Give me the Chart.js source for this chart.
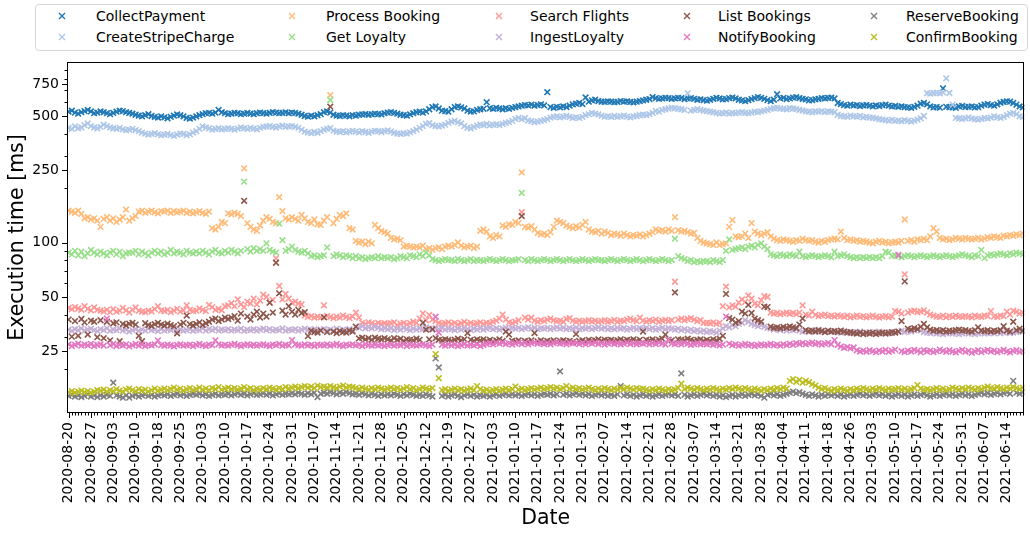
<!DOCTYPE html>
<html>
<head>
<meta charset="utf-8">
<script src="https://cdn.jsdelivr.net/npm/chart.js@4.4.1/dist/chart.umd.min.js"></script>
<style>
  body { margin: 0; background: #fff; font-family: "DejaVu Sans", sans-serif; }
  #wrap { position: relative; width: 1030px; height: 534px; }
  #chart { position: absolute; left: 0; top: 0; }
  #legend { position: absolute; left: 35px; top: 4px; width: 993px; height: 47px; box-sizing: border-box;
            border: 1px solid #d6d6d6; border-radius: 4px; background: #fff; }
  .mk { position: absolute; width: 8px; height: 8px; }
  .lb { position: absolute; font-size: 14px; line-height: 18px; color: #000; white-space: nowrap; }
</style>
</head>
<body>
<div id="wrap">
  <canvas id="chart" width="1030" height="534"></canvas>
  <div id="legend"></div>
</div>
<script>
// tick labels, one every 7 points
const tickLabels = ['2020-08-20','2020-08-27','2020-09-03','2020-09-10','2020-09-18','2020-09-25','2020-10-03',
  '2020-10-10','2020-10-17','2020-10-24','2020-10-31','2020-11-07','2020-11-14','2020-11-21','2020-11-28',
  '2020-12-05','2020-12-12','2020-12-19','2020-12-27','2021-01-03','2021-01-10','2021-01-17','2021-01-24',
  '2021-01-31','2021-02-07','2021-02-14','2021-02-21','2021-02-28','2021-03-07','2021-03-14','2021-03-21',
  '2021-03-28','2021-04-04','2021-04-11','2021-04-18','2021-04-26','2021-05-03','2021-05-10','2021-05-17',
  '2021-05-24','2021-05-31','2021-06-07','2021-06-14'];
const yTicks = [25, 50, 100, 250, 500, 750];
const yMinor = [20, 30, 40, 60, 70, 80, 90, 200, 300, 400, 600, 700, 800, 900];

const seriesNames = ['CollectPayment', 'CreateStripeCharge', 'Process Booking', 'Get Loyalty', 'Search Flights',
  'IngestLoyalty', 'List Bookings', 'NotifyBooking', 'ReserveBooking', 'ConfirmBooking'];

const collectPayment = [
  528,535,522,515,525,532,540,530,518,522, 530,525,518,512,520,528,535,532,525,520,
  515,508,502,498,505,512,500,495,490,498, 492,486,495,502,510,505,498,488,484,490,
  498,505,512,518,520,515,522,540,525,518, 512,515,520,518,512,515,520,516,512,518,
  522,518,515,520,525,522,518,520,524,518, 522,520,515,508,500,496,502,498,505,512,
  525,530,522,508,502,500,505,502,498,505, 502,508,510,512,508,511,515,512,510,518,
  522,525,520,515,508,505,502,510,518,525, 528,522,530,545,560,565,550,535,532,528,
  545,560,565,558,550,535,528,530,540,545, 548,596,552,548,555,550,545,552,548,555,
  560,565,570,575,572,578,570,575,580,572, 677,560,555,562,558,565,560,570,580,585,
  590,582,633,600,610,615,605,600,598,602, 600,596,598,605,600,602,598,595,600,605,
  610,615,620,636,628,622,625,630,628,622, 625,630,628,620,625,628,622,615,618,612,
  608,615,622,630,625,618,620,628,632,625, 615,610,605,612,620,628,636,630,622,612,
  605,615,660,625,630,620,625,632,635,628, 622,618,610,612,618,622,628,625,630,632,
  625,590,582,575,570,578,572,575,568,572, 575,570,565,572,568,575,578,570,565,568,
  562,565,560,558,555,562,570,585,590,580, 565,558,560,556,711,562,560,558,555,565,
  568,560,562,565,558,560,570,578,582,575, 570,580,592,598,602,600,590,578,565,558];

const createStripeCharge = [
  430,425,438,428,432,445,455,440,432,428, 435,448,440,432,428,425,430,422,418,420,
  425,418,412,405,400,395,398,402,396,392, 395,398,392,388,395,400,398,392,396,405,
  412,425,438,432,428,420,425,428,422,424, 428,425,420,426,432,428,424,430,426,422,
  430,435,438,440,436,432,438,442,436,438, 440,436,430,420,410,405,402,408,404,412,
  420,425,428,415,410,408,412,406,410,414, 410,406,412,408,404,410,414,412,408,412,
  416,410,404,400,398,402,400,406,412,420, 430,440,452,456,445,440,438,442,448,458,
  465,470,462,455,440,430,428,435,442,448, 446,452,444,448,450,445,452,458,462,470,
  482,488,480,486,472,468,462,466,470,475, 480,490,495,498,492,496,500,494,488,492,
  488,495,505,512,520,515,510,502,496,498, 495,500,494,498,502,496,492,498,500,505,
  508,506,512,520,532,528,540,545,550,555, 552,548,545,540,667,535,540,545,540,535,
  532,528,525,520,516,518,522,515,520,518, 522,525,520,518,522,528,526,530,535,540,
  548,552,555,550,548,545,552,550,546,540, 535,530,528,525,530,528,532,526,530,528,
  525,508,500,498,495,502,498,496,500,492, 495,490,488,485,480,478,475,472,476,470,
  472,468,475,470,466,472,478,486,500,668, 665,670,672,668,675,808,670,578,488,485,
  482,486,490,484,480,478,482,488,485,490, 498,492,488,495,505,515,520,512,498,495];

const processBooking = [
  150,148,146,150,144,136,138,134,136,132, 122,135,138,132,136,130,134,138,152,132,
  136,140,148,150,146,148,150,147,145,149, 148,150,146,149,147,148,150,146,148,145,
  147,149,146,144,148,120,118,122,130,128, 145,143,146,144,140,257,128,122,118,116,
  124,132,138,135,130,128,178,149,136,134, 138,135,132,142,136,130,128,134,126,125,
  132,138,653,128,135,142,140,145,120,118, 102,100,101,98,101,99,125,120,116,114,
  112,106,104,105,103,95,96,95,94,95, 94,96,92,93,91,93,94,92,95,96,
  95,97,100,96,94,95,96,93,95,116, 118,115,108,106,110,108,124,122,126,125,
  130,128,244,122,121,123,118,113,111,112, 110,114,122,132,130,128,124,122,120,123,
  121,125,130,118,115,114,116,112,115,113, 110,112,111,109,112,110,108,110,109,111,
  108,110,112,114,118,116,117,115,118,116, 138,117,115,116,114,112,113,106,102,100,
  99,98,97,100,97,98,99,122,133,108, 107,108,112,106,128,115,112,110,112,114,
  108,105,103,102,104,103,102,101,103,102, 105,103,102,103,101,100,102,101,103,104,
  105,104,115,106,103,104,102,103,101,102, 101,100,99,101,102,100,101,99,100,101,
  100,102,134,102,103,101,104,103,105,103, 108,120,115,106,104,105,103,104,106,105,
  104,106,105,104,105,106,104,105,107,106, 108,107,106,109,108,110,109,111,110,112];

const getLoyalty = [
  88,86,90,85,89,84,87,91,88,86, 89,87,85,88,90,86,89,84,87,88,
  88,90,86,89,87,85,88,90,87,89, 86,88,91,87,89,88,86,90,88,87,
  89,87,90,88,86,89,91,88,87,90, 88,91,89,87,90,217,92,89,93,90,
  92,90,99,91,89,88,127,103,90,92, 95,91,89,88,90,87,84,85,83,84,
  85,94,613,84,86,85,83,85,84,82, 84,82,83,81,82,83,82,84,82,83,
  82,83,81,82,84,83,82,85,84,83, 86,84,88,85,81,80,79,80,81,80,
  80,79,81,80,79,80,81,79,80,80, 79,80,81,80,79,80,81,80,79,80,
  80,81,188,80,79,81,80,79,80,81, 80,79,80,81,80,79,80,81,80,79,
  80,81,80,79,80,81,80,80,79,80, 81,80,79,80,81,80,79,80,81,80,
  79,80,81,80,79,80,81,80,79,80, 105,84,82,81,79,80,78,79,78,79,
  79,78,80,79,78,80,90,104,91,92, 93,94,92,95,96,94,97,99,95,92,
  86,85,84,86,85,84,86,85,84,89, 84,83,84,85,84,83,84,85,84,83,
  89,84,85,86,84,83,82,83,82,83, 82,83,82,83,82,84,89,88,84,85,
  84,83,84,85,84,83,84,85,84,83, 84,85,84,83,84,85,84,83,84,85,
  86,85,84,83,85,84,91,82,85,86, 85,86,87,86,85,87,86,88,87,86];

const searchFlights = [
  43.5,42.8,44.0,43.2,42.5,44.5,43.0,42.2,43.8,42.5, 42.0,41.6,42.5,41.2,42.8,41.5,42.0,43.5,42.2,41.0,
  42.5,43.8,42.0,41.5,41.2,42.0,41.6,42.8,44.5,42.0, 41.8,42.5,41.2,42.0,43.0,41.5,42.2,45.0,42.5,41.8,
  42.0,43.2,42.5,41.8,45.2,44.0,42.5,43.0,42.2,44.5, 45.0,46.2,44.5,48.5,45.5,44.0,47.2,46.0,49.0,45.5,
  47.8,51.5,50.0,46.5,48.2,81.8,57.5,48.5,52.0,49.0, 46.5,47.2,46.0,45.5,39.5,38.8,39.2,38.5,39.0,38.6,
  45.0,39.2,38.8,38.2,39.0,38.5,39.5,38.8,38.2,39.0, 41.0,38.5,36.0,35.5,36.2,35.8,35.2,36.0,35.5,35.8,
  35.5,35.8,36.2,35.0,35.6,36.0,35.2,35.8,36.5,36.0, 38.0,40.6,37.2,39.8,37.5,36.8,36.0,35.5,35.8,36.2,
  35.5,36.0,35.2,35.8,36.4,35.6,36.0,35.4,35.8,36.2, 35.5,36.0,35.8,36.5,37.0,38.0,40.0,37.5,36.2,35.8,
  36.5,37.2,147,38.4,37.5,38.4,37.0,36.5,37.2,36.8, 37.5,38.0,37.2,36.8,37.0,36.5,37.8,38.2,37.0,36.5,
  37.0,36.5,36.8,37.2,36.6,37.0,36.4,36.8,37.2,36.5, 36.8,37.4,36.5,37.0,36.8,37.5,38.0,37.2,36.8,38.4,
  37.0,36.6,37.2,36.8,37.5,36.5,37.0,37.4,36.8,37.2, 60.7,37.5,38.0,37.2,37.8,38.2,37.5,36.8,37.2,36.0,
  36.0,35.8,36.2,35.5,36.0,44.5,57.0,43.8,45.0,44.2, 46.5,48.5,47.0,51.0,49.0,46.0,45.0,48.0,50.5,50.0,
  41.0,40.5,40.8,40.2,40.6,41.0,40.4,40.8,40.2,41.0, 45.0,40.0,39.5,41.5,39.8,39.2,39.6,40.0,39.2,39.5,
  39.0,39.6,39.2,38.8,39.4,38.6,39.0,39.5,38.8,39.2, 38.6,39.0,39.4,38.8,38.5,39.0,39.2,38.6,39.0,41.8,
  41.5,40.5,66.7,41.0,41.8,42.0,41.2,41.5,42.2,41.0, 40.0,39.5,39.0,38.8,39.4,38.6,39.2,38.8,39.5,39.0,
  38.8,39.2,39.0,38.6,39.4,39.0,38.8,39.5,39.2,41.8, 39.0,38.8,39.5,39.2,41.5,40.0,42.0,41.5,40.5,41.0];

const ingestLoyalty = [
  33.0,32.5,33.2,32.8,33.5,32.6,33.0,33.4,32.8,32.4, 33.2,32.8,33.6,32.5,33.0,32.8,33.4,32.6,33.0,32.2,
  32.8,33.2,32.5,33.0,32.6,33.4,32.8,33.0,32.4,33.2, 32.6,33.0,32.8,33.4,32.5,33.0,32.6,32.8,33.2,32.5,
  33.0,32.8,33.5,32.6,33.2,32.8,33.4,32.6,33.0,32.8, 33.2,32.6,33.0,32.8,33.4,32.5,33.0,32.8,33.2,32.6,
  33.0,33.4,32.8,33.2,32.6,33.0,32.8,33.5,32.6,33.0, 32.8,33.2,32.6,33.0,33.4,32.8,33.0,33.2,32.6,33.0,
  33.2,32.8,33.0,32.6,33.4,32.8,33.0,32.6,33.2,32.8, 34.2,33.8,34.5,33.6,34.0,33.5,34.2,33.8,33.2,33.6,
  33.2,33.6,32.8,33.4,33.0,33.8,33.2,32.8,33.4,33.0, 33.6,33.2,34.0,33.4,33.0,33.6,33.2,33.8,33.0,33.4,
  33.2,32.8,33.4,33.0,33.6,33.2,32.8,33.4,33.0,33.6, 33.0,33.4,33.8,33.2,33.6,33.0,33.4,33.8,33.2,33.6,
  33.4,33.8,33.2,33.6,34.0,33.4,33.8,33.2,33.6,33.4, 33.8,33.2,33.6,34.0,33.4,33.8,33.2,33.6,33.4,33.8,
  33.2,33.6,33.4,33.8,33.2,33.6,34.0,33.4,33.8,33.2, 33.6,33.2,33.8,33.4,33.6,33.0,33.4,33.8,33.2,33.6,
  33.4,33.8,33.2,33.6,33.0,33.4,33.8,33.2,33.6,33.4, 33.0,33.4,32.8,33.2,32.6,33.0,32.4,32.8,32.2,32.6,
  32.0,32.4,32.2,31.8,32.6,33.5,34.5,34.0,35.0,34.5, 35.5,36.0,37.2,36.5,35.5,35.0,34.5,35.0,34.2,33.8,
  33.5,33.0,33.4,32.8,33.2,32.6,33.0,32.8,33.2,32.6, 32.2,32.5,32.0,32.4,32.8,32.2,32.6,32.0,32.4,32.2,
  32.0,32.4,31.8,32.2,32.0,31.6,32.0,31.8,32.2,31.6, 31.8,32.0,31.6,31.8,32.2,31.5,31.8,32.0,31.6,31.8,
  32.2,32.5,32.0,32.4,32.2,32.8,33.2,32.6,32.0,31.8, 31.6,31.8,31.4,31.6,31.2,31.5,31.8,31.4,31.6,31.2,
  31.5,31.8,31.4,31.6,31.2,31.5,31.8,31.4,31.6,31.8, 31.5,32.0,31.6,31.8,32.2,31.6,31.8,32.0,32.4,32.2];

const listBookings = [
  37.5,30.2,36.8,30.5,37.8,36.2,31.0,37.0,36.5,30.0, 37.2,29.6,36.5,28.8,35.8,36.2,28.5,35.5,34.8,35.6,
  36.0,35.2,30.5,28.5,35.8,35.0,34.6,35.4,36.0,35.2, 34.8,35.6,35.0,34.5,31.5,35.2,36.0,39.5,35.4,34.8,
  35.5,36.2,35.0,35.8,36.5,37.5,38.0,36.8,37.5,38.5, 37.8,38.5,39.2,37.0,40.5,170,39.0,37.5,40.0,41.5,
  38.5,40.5,39.0,46.5,41.0,77.3,52.4,42.0,40.0,44.5, 41.5,40.0,42.5,40.8,41.2,30.4,32.5,32.0,31.8,32.6,
  38.6,32.0,563,32.2,31.6,32.4,32.0,31.8,32.6,32.2, 34.3,29.5,29.8,29.2,29.6,29.0,29.8,29.4,29.2,29.6,
  29.2,28.8,29.6,29.0,29.4,28.6,29.2,29.0,28.8,29.4, 29.0,36.0,33.0,29.2,33.2,29.6,29.0,28.8,29.2,29.0,
  28.6,29.0,29.4,28.8,29.2,31.6,29.0,28.6,29.2,28.8, 29.2,28.6,29.0,28.4,28.8,29.2,28.6,32.2,31.0,28.6,
  28.4,28.8,140,28.6,28.4,28.8,31.6,28.4,28.8,28.2, 28.6,28.4,28.8,28.2,28.6,28.8,28.4,28.6,28.2,31.2,
  28.6,28.8,28.4,29.0,28.6,28.8,29.2,28.6,29.0,28.8, 29.0,28.6,28.8,29.2,28.6,29.0,28.8,29.2,28.6,29.0,
  32.2,29.0,28.8,29.2,28.6,29.0,29.4,31.0,29.0,28.8, 53.0,29.2,29.0,28.8,29.4,29.0,28.6,29.0,29.2,28.6,
  29.0,28.6,29.2,28.8,29.4,30.5,52.0,38.2,37.5,36.0, 36.8,41.5,40.5,45.2,40.8,38.0,37.2,36.5,44.2,44.0,
  34.3,33.8,34.0,33.6,34.2,33.8,34.4,34.0,33.6,35.2, 38.0,32.8,32.4,32.6,32.2,32.8,32.4,32.0,32.6,32.2,
  32.4,32.0,32.6,32.2,31.8,32.0,31.6,31.4,31.8,31.2, 31.6,31.4,31.8,31.2,31.6,31.8,31.4,31.6,32.0,31.8,
  32.2,36.8,61.0,33.4,33.0,33.6,33.2,34.2,35.5,34.0, 33.0,32.6,32.8,32.4,32.8,32.2,32.6,32.4,32.8,33.0,
  32.6,32.8,32.4,32.2,32.8,34.0,32.6,32.4,32.8,32.2, 32.6,32.4,32.8,34.5,32.6,32.2,36.5,32.8,33.4,32.6];

const notifyBooking = [
  27.4,26.8,27.2,27.6,26.9,27.3,27.0,27.5,26.8,27.2, 27.4,26.9,38.0,27.1,27.5,26.8,27.2,27.0,27.4,26.7,
  27.1,27.5,26.9,27.3,26.8,27.2,27.0,27.4,28.8,27.1, 26.9,27.3,27.0,26.7,27.2,27.4,26.9,27.1,27.3,26.8,
  27.2,27.5,27.0,26.8,27.3,27.1,28.8,27.4,27.0,27.2, 26.9,27.3,27.5,27.1,26.8,27.2,27.4,27.0,27.3,26.9,
  27.2,27.4,27.0,26.8,27.3,27.1,27.5,26.9,27.2,27.0, 28.9,27.3,27.1,26.9,27.4,27.0,27.2,26.8,27.3,27.1,
  27.0,27.4,26.9,27.2,27.5,27.0,26.8,27.3,27.1,27.4, 27.0,27.2,26.8,27.4,27.1,26.9,27.3,27.0,27.2,26.8,
  27.1,27.4,26.9,27.2,27.0,27.5,26.8,27.3,27.1,26.9, 27.2,27.4,27.0,26.8,27.3,38.9,31.8,27.2,26.9,27.4,
  27.0,27.3,26.8,27.1,27.5,26.9,27.2,27.0,27.4,26.8, 27.2,27.5,27.8,27.4,27.9,27.6,28.0,27.5,27.8,27.3,
  27.7,28.0,27.5,27.9,27.4,27.8,28.1,27.6,27.9,27.5, 27.8,27.4,27.9,28.1,27.6,27.8,27.4,27.9,27.7,28.0,
  27.5,27.8,27.4,27.9,27.6,28.0,27.5,27.8,27.3,27.7, 27.9,27.5,27.8,27.4,27.6,28.0,27.5,27.8,27.4,27.7,
  27.6,27.9,27.4,27.8,27.5,28.0,27.6,27.3,29.0,27.7, 27.5,27.8,27.4,27.9,27.6,27.2,27.5,27.8,27.4,27.6,
  27.4,27.7,27.2,27.5,27.0,27.3,39.0,27.6,27.1,27.4, 26.9,27.2,27.5,27.0,27.3,26.8,27.1,27.4,27.0,27.2,
  27.5,27.0,27.3,26.9,27.4,27.1,27.6,27.2,27.8,27.5, 27.9,27.4,27.7,28.0,27.5,27.8,27.3,27.6,27.9,27.4,
  28.9,27.2,26.6,26.2,26.5,26.0,26.3,25.4,25.0,25.3, 24.9,25.4,25.1,24.8,25.3,25.0,25.5,24.9,25.2,25.6,
  85.3,25.1,24.8,25.3,25.0,25.5,25.2,24.7,25.4,25.0, 25.3,24.8,25.1,25.6,25.2,24.9,25.4,25.0,24.7,25.2,
  25.5,24.9,25.2,24.6,25.0,25.4,24.8,25.2,25.5,25.0, 25.3,24.8,25.1,25.5,25.0,24.7,25.2,25.4,24.9,25.1];

const reserveBooking = [
  14.2,14.4,14.1,14.3,14.0,14.2,14.5,14.1,14.3,14.0, 14.3,14.1,14.4,14.2,16.8,14.3,14.1,13.9,14.3,13.9,
  14.2,14.4,14.1,14.3,14.5,14.2,14.4,14.1,14.3,14.5, 14.3,14.5,14.2,14.4,14.6,14.3,14.5,14.2,14.4,14.6,
  14.4,14.6,14.3,14.5,14.2,14.4,14.6,14.3,14.5,14.4, 14.6,14.3,14.5,14.7,14.4,14.6,14.3,14.5,14.7,14.4,
  14.5,14.7,14.4,14.6,14.3,14.5,14.7,14.4,14.6,14.5, 14.7,14.5,14.8,14.6,14.4,14.7,14.5,14.8,14.0,14.6,
  14.8,14.6,14.9,14.7,14.5,14.8,14.6,14.9,14.7,14.5, 14.6,14.4,14.7,14.5,14.3,14.6,14.4,14.2,14.5,14.3,
  14.5,14.3,14.6,14.4,14.2,14.5,14.3,14.6,14.4,14.2, 14.4,14.2,14.5,14.3,14.1,22.9,20.4,14.2,14.4,14.1,
  14.3,14.5,14.2,14.0,14.3,14.5,14.2,14.4,14.1,14.3, 14.2,14.4,14.1,14.3,14.5,14.2,14.4,14.6,14.3,14.5,
  14.3,14.5,14.2,14.4,14.6,14.3,14.5,14.2,14.4,14.6, 14.4,14.6,14.3,14.5,19.4,14.4,14.6,14.3,14.5,14.7,
  14.4,14.6,14.3,14.5,14.2,14.4,14.6,14.3,14.5,14.2, 14.4,14.2,14.5,16.1,14.3,14.5,14.2,14.4,14.1,14.3,
  14.5,14.2,14.4,14.1,14.3,14.5,14.2,14.4,14.6,14.3, 14.5,14.2,18.9,14.4,14.1,14.3,14.5,14.2,14.4,14.6,
  14.3,14.5,14.2,14.4,14.1,14.3,14.0,14.2,14.4,14.1, 14.3,14.5,14.2,14.4,14.6,14.3,14.5,14.2,13.9,14.4,
  14.6,14.3,14.5,14.2,14.4,14.6,14.8,15.0,14.7,14.9, 14.6,14.4,14.2,14.5,14.3,14.1,14.4,14.2,14.5,14.3,
  14.5,14.2,14.4,14.1,14.3,14.5,14.2,14.4,14.6,14.3, 14.5,14.2,14.4,14.6,14.3,14.5,14.2,14.4,14.1,14.3,
  14.5,14.2,14.4,14.1,14.3,14.5,14.2,14.4,14.6,14.3, 14.1,14.3,14.5,14.2,14.4,14.6,14.3,14.5,14.2,14.4,
  14.6,14.3,14.5,14.2,14.4,14.6,14.8,14.5,14.7,14.4, 14.6,14.8,14.5,14.7,14.9,14.6,17.2,14.8,14.6,14.9];

const confirmBooking = [
  14.9,15.1,14.8,15.0,15.2,14.9,15.1,14.8,15.0,15.3, 15.2,15.4,15.0,15.3,15.1,15.5,15.2,15.0,15.4,15.6,
  15.3,15.1,15.5,15.2,15.4,15.0,15.3,15.6,15.2,15.4, 15.6,15.3,15.5,15.8,15.4,15.6,15.2,15.5,15.7,15.3,
  15.5,15.8,15.4,15.6,15.3,15.7,15.5,15.9,15.4,15.6, 15.8,15.5,15.7,15.4,15.6,15.9,15.5,15.7,15.3,15.6,
  15.4,15.7,15.5,15.8,15.6,15.4,15.7,15.5,15.9,15.6, 15.8,16.0,15.7,15.9,16.1,15.8,16.0,15.7,16.2,15.9,
  16.0,15.8,16.1,15.9,15.7,16.0,16.2,15.8,16.0,15.9, 15.7,15.5,15.8,15.6,15.4,15.7,15.5,15.8,15.6,15.4,
  15.6,15.8,15.5,15.7,15.4,15.6,15.9,15.5,15.7,15.3, 15.5,15.8,15.6,15.4,15.7,24.2,17.8,15.3,15.5,15.2,
  15.4,15.6,15.3,15.5,15.2,15.4,15.6,15.3,16.1,15.5, 15.2,15.4,15.1,15.3,15.5,15.2,15.4,15.6,15.3,15.5,
  16.0,15.4,15.6,15.3,15.5,15.7,15.4,15.6,15.8,15.5, 15.7,15.9,15.6,15.8,15.5,15.7,16.1,15.6,15.8,15.5,
  15.7,15.4,15.6,15.8,15.5,15.3,15.6,15.4,15.7,15.5, 15.3,15.6,15.4,15.7,15.5,15.8,15.6,15.4,15.7,15.5,
  15.6,15.4,15.2,15.5,15.3,15.6,15.4,15.2,15.5,15.3, 15.4,15.7,16.6,15.5,15.8,15.6,15.4,15.7,15.5,15.3,
  15.6,15.4,15.7,15.5,15.3,15.6,15.4,15.7,15.5,15.8, 15.6,15.4,15.7,15.5,15.3,15.6,15.4,15.2,15.5,15.3,
  15.6,15.4,15.7,15.5,15.8,15.6,17.2,17.6,17.0,17.4, 16.8,17.2,16.9,16.5,16.2,15.8,15.5,15.7,15.4,15.2,
  15.5,15.3,15.6,15.4,15.2,15.5,15.3,15.6,15.4,15.7, 15.5,15.3,15.6,15.4,15.7,15.5,15.3,15.6,15.4,15.5,
  15.7,15.4,15.6,15.3,15.5,15.7,16.3,15.6,15.4,15.5, 15.3,15.5,15.7,15.4,15.6,15.3,15.5,15.8,15.6,15.4,
  15.7,15.5,15.8,15.6,15.4,15.7,15.5,15.8,16.0,15.7, 15.6,15.9,15.7,15.5,15.8,15.6,15.9,15.7,15.5,15.8];

const seriesValues = [collectPayment, createStripeCharge, processBooking, getLoyalty, searchFlights,
  ingestLoyalty, listBookings, notifyBooking, reserveBooking, confirmBooking];
const colors = ['#1f77b4', '#aec7e8', '#ffbb78', '#98df8a', '#ff9896',
  '#c5b0d5', '#8c564b', '#e377c2', '#7f7f7f', '#bcbd22'];

const N = collectPayment.length;
const FONT = '"DejaVu Sans", sans-serif';

// legend, matplotlib style: 5 columns x 2 rows, filled column by column
const legend = document.getElementById('legend');
const markX = [62, 292, 499, 687, 874];
const textX = [96, 326, 530, 718, 906];
const rowY = [16, 37];
seriesNames.forEach((name, i) => {
  const col = Math.floor(i / 2), row = i % 2;
  const mk = document.createElementNS('http://www.w3.org/2000/svg', 'svg');
  mk.setAttribute('class', 'mk');
  mk.setAttribute('viewBox', '0 0 8 8');
  mk.style.left = (markX[col] - 4 - 36) + 'px';
  mk.style.top = (rowY[row] - 4 - 5) + 'px';
  mk.innerHTML = `<path d="M1 1L7 7M7 1L1 7" stroke="${colors[i]}" stroke-width="1.4"/>`;
  legend.appendChild(mk);
  const lb = document.createElement('span');
  lb.className = 'lb';
  lb.textContent = name;
  lb.style.left = (textX[col] - 36) + 'px';
  lb.style.top = (rowY[row] - 9 - 5) + 'px';
  legend.appendChild(lb);
});

// frame and tick marks (major longer than minor)
const axisDecor = {
  id: 'axisDecor',
  afterDraw(chart) {
    const { ctx, chartArea: a, scales: { x, y } } = chart;
    ctx.save();
    ctx.strokeStyle = '#000';
    ctx.lineWidth = 1;
    ctx.beginPath();
    for (let i = 0; i < N; i++) {
      const px = Math.round(x.getPixelForValue(i)) + 0.5;
      const len = i % 7 === 0 ? 5 : 2.5;
      ctx.moveTo(px, a.bottom);
      ctx.lineTo(px, a.bottom + len);
    }
    yTicks.forEach(v => {
      const py = Math.round(y.getPixelForValue(v)) + 0.5;
      ctx.moveTo(a.left, py);
      ctx.lineTo(a.left - 5, py);
    });
    yMinor.forEach(v => {
      const py = Math.round(y.getPixelForValue(v)) + 0.5;
      ctx.moveTo(a.left, py);
      ctx.lineTo(a.left - 2.5, py);
    });
    ctx.stroke();
    ctx.strokeRect(Math.round(a.left) + 0.5, Math.round(a.top) + 0.5, Math.round(a.width) - 1, Math.round(a.height) - 1);
    ctx.restore();
  }
};

new Chart(document.getElementById('chart'), {
  type: 'scatter',
  data: {
    datasets: seriesNames.map((name, i) => ({
      label: name,
      data: seriesValues[i].map((v, k) => ({ x: k, y: v })),
      pointStyle: 'crossRot',
      pointRadius: 4,
      pointBorderWidth: 1.6,
      borderColor: colors[i],
      backgroundColor: colors[i],
      order: seriesNames.length - i
    }))
  },
  options: {
    responsive: false,
    animation: false,
    events: [],
    layout: { padding: { top: 62, right: 2, bottom: 0, left: 0 } },
    plugins: { legend: { display: false }, tooltip: { enabled: false } },
    scales: {
      x: {
        type: 'linear',
        min: -0.5,
        max: N - 0.5,
        afterBuildTicks: s => { s.ticks = tickLabels.map((_, k) => ({ value: k * 7 })); },
        afterFit: s => { s.height = 121; },
        ticks: {
          autoSkip: false, minRotation: 90, maxRotation: 90, padding: 4, color: '#000',
          font: { family: FONT, size: 14 },
          callback: v => tickLabels[Math.round(v / 7)] || ''
        },
        grid: { display: false, drawTicks: true, tickLength: 5 },
        border: { display: false },
        title: { display: true, text: 'Date', color: '#000', font: { family: FONT, size: 20.5 },
                 padding: { top: 0, bottom: 3 } }
      },
      y: {
        type: 'logarithmic',
        min: 11.43,
        max: 994,
        afterBuildTicks: s => { s.ticks = yTicks.map(v => ({ value: v })); },
        afterFit: s => { s.width = 67; },
        ticks: {
          autoSkip: false, padding: 3, color: '#000',
          font: { family: FONT, size: 14 },
          callback: v => String(v)
        },
        grid: { display: false, drawTicks: true, tickLength: 5 },
        border: { display: false },
        title: { display: true, text: 'Execution time [ms]', color: '#000', font: { family: FONT, size: 20.5 },
                 padding: { top: 5, bottom: 0 } }
      }
    }
  },
  plugins: [axisDecor]
});
</script>
</body>
</html>
